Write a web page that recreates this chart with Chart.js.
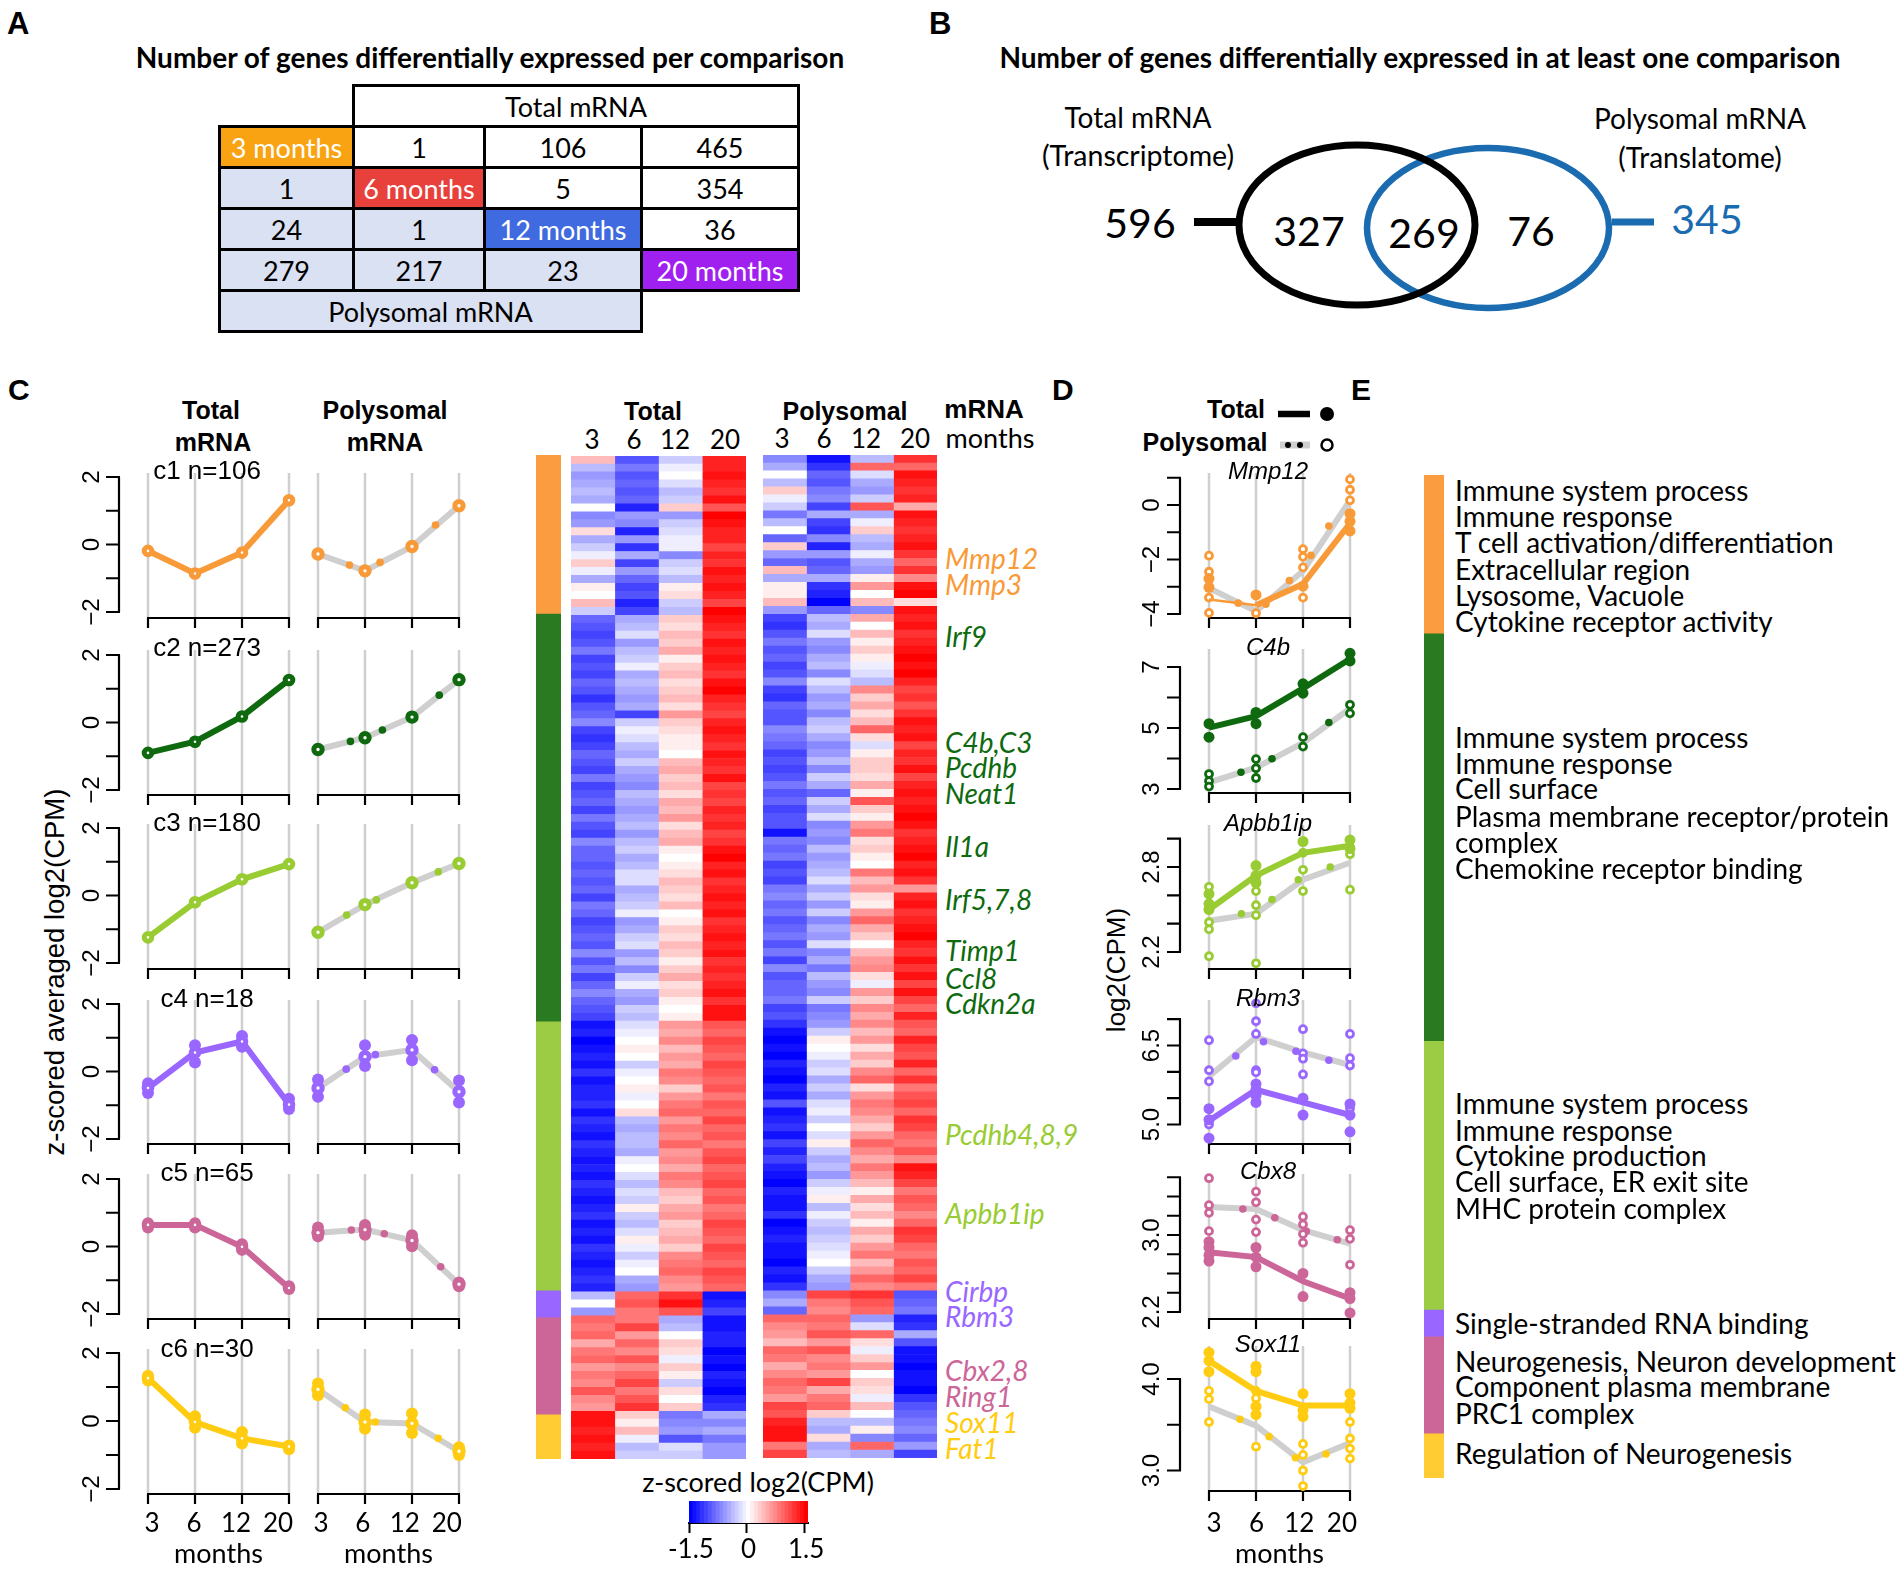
<!DOCTYPE html>
<html lang="en">
<head>
<meta charset="UTF-8">
<title>Differential expression figure</title>
<script src="https://cdn.jsdelivr.net/npm/chart.js"></script>
<style>
  html, body { margin: 0; padding: 0; background: #fff; }
  body { position: relative; width: 1904px; height: 1571px; overflow: hidden; font-family: Lato, sans-serif; color: #000; }
  canvas { position: absolute; }
  .t { position: absolute; white-space: nowrap; transform: translate(-50%, -50%); }
  .l { position: absolute; white-space: nowrap; transform: translate(0, -50%); }
  .arial { font-family: "Liberation Sans", sans-serif; }
  .b { font-weight: 700; }
  .i { font-style: italic; }
  #tableA { position: absolute; left: 218px; top: 84px; border-collapse: collapse; table-layout: fixed; font-size: 27px; }
  #tableA td { border: 3.5px solid #000; text-align: center; padding: 0; height: 38px; background: #fff; }
  #tableA td.blank { border: none; background: none; }
  #tableA td.low { background: #d9e1f2; }
  #tableA td.m { color: #fff; }
  svg { position: absolute; left: 0; top: 0; }
</style>
</head>
<body>
<script>
  // panel A
  const tableMonths = ['3 months', '6 months', '12 months', '20 months']
  const tableColors = ['#f9a313', '#e8403a', '#3f6ae0', '#a020f0']
  const tableValues = [
    [null, 1, 106, 465],
    [1, null, 5, 354],
    [24, 1, null, 36],
    [279, 217, 23, null]
  ]

  // clusters
  const clusterNames = ['c1', 'c2', 'c3', 'c4', 'c5', 'c6']
  const clusterN = [106, 273, 180, 18, 65, 30]
  const clusterColors = ['#f99a38', '#0f6a0f', '#99cc33', '#9966ff', '#cc6699', '#ffcc11']
  const stripColors = ['#fb9c40', '#2a7a22', '#9ccc44', '#9966ff', '#cc6699', '#ffcc33']
  const monthLabels = ['3', '6', '12', '20']

  // panel C, z-scored means
  const c1Total = [-0.19, -0.86, -0.24, 1.31]
  const c1Poly = [-0.28, -0.78, -0.06, 1.15]
  const c1DotsX = [0.67, 1.32, 2.5]
  const c1DotsY = [-0.61, -0.53, 0.58]
  const c2Total = [-0.9, -0.57, 0.18, 1.26]
  const c2Poly = [-0.8, -0.45, 0.16, 1.27]
  const c2DotsX = [0.69, 1.37, 2.58]
  const c2DotsY = [-0.56, -0.22, 0.81]
  const c3Total = [-1.24, -0.2, 0.48, 0.93]
  const c3Poly = [-1.09, -0.27, 0.38, 0.95]
  const c3DotsX = [0.61, 1.24, 2.56]
  const c3DotsY = [-0.58, -0.13, 0.7]
  const c4Total = [-0.49, 0.56, 0.89, -0.98]
  const c4Poly = [-0.49, 0.44, 0.64, -0.6]
  const c4DotsX = [0.6, 1.22, 2.48]
  const c4DotsY = [0.07, 0.5, 0.05]
  const c4TotalReps = [[-0.35, -0.64], [0.78, 0.27], [1.05, 0.73], [-0.81, -1.11]]
  const c4PolyReps = [[-0.24, -0.75], [0.78, 0.16], [0.93, 0.33], [-0.27, -0.92]]
  const c5Total = [0.64, 0.64, -0.01, -1.23]
  const c5Poly = [0.41, 0.5, 0.18, -1.12]
  const c5DotsX = [0.71, 1.41, 2.61]
  const c5DotsY = [0.49, 0.38, -0.6]
  const c5TotalReps = [[0.69, 0.56], [0.69, 0.56], [0.07, -0.1], [-1.18, -1.26]]
  const c5PolyReps = [[0.56, 0.3], [0.64, 0.35], [0.33, 0.01], [-1.07, -1.18]]
  const c6Total = [1.26, -0.03, -0.51, -0.75]
  const c6Poly = [0.93, -0.03, -0.07, -0.89]
  const c6DotsX = [0.58, 1.22, 2.56]
  const c6DotsY = [0.39, -0.03, -0.51]
  const c6TotalReps = [[1.33, 1.19], [0.14, -0.2], [-0.32, -0.66], [-0.72, -0.83]]
  const c6PolyReps = [[1.1, 0.76], [0.19, -0.23], [0.22, -0.35], [-0.77, -1]]

  // panel D, log2(CPM)
  const geneNames = ['Mmp12', 'C4b', 'Apbb1ip', 'Rbm3', 'Cbx8', 'Sox11']
  const mmp12Total = [-3.47, -3.68, -2.9, -0.67]
  const mmp12Poly = [-3.05, -3.9, -2.42, 0.17]
  const mmp12DotsX = [0.62, 1.21, 1.71, 2.17, 2.55]
  const mmp12DotsY = [-3.6, -3.64, -2.77, -1.85, -0.77]
  const mmp12TotalReps = [[-2.7, -3.02], [-3.3], [-2.98], [-0.32, -0.6, -0.95]]
  const mmp12PolyReps = [[-1.86, -2.45, -3.4, -3.96], [-3.97], [-1.62, -1.9, -2.29, -3.4], [0.94, 0.56, 0.17]]
  const c4bTotal = [5.01, 5.39, 6.3, 7.26]
  const c4bPoly = [3.22, 3.7, 4.51, 5.64]
  const c4bDotsX = [0.68, 1.34, 2.55]
  const c4bDotsY = [3.55, 3.99, 5.18]
  const c4bTotalReps = [[5.14, 4.7], [5.51, 5.14], [6.45, 6.14], [7.45, 7.2]]
  const c4bPolyReps = [[3.49, 3.26, 3.08], [3.98, 3.68, 3.36], [4.7, 4.39], [5.76, 5.48]]
  const apbbTotal = [2.5, 2.74, 2.9, 2.95]
  const apbbPoly = [2.42, 2.47, 2.71, 2.83]
  const apbbDotsX = [0.69, 1.34, 1.9, 2.58]
  const apbbDotsY = [2.47, 2.57, 2.71, 2.8]
  const apbbTotalReps = [[2.61, 2.54, 2.5], [2.81, 2.74, 2.69], [2.98], [2.99, 2.93]]
  const apbbPolyReps = [[2.66, 2.5, 2.41, 2.36, 2.17], [2.7, 2.63, 2.53, 2.46, 2.12], [2.9, 2.78, 2.63], [2.94, 2.89, 2.64]]
  const rbm3Total = [5.07, 5.66, 5.42, 5.18]
  const rbm3Poly = [5.91, 6.66, 6.37, 6.13]
  const rbm3DotsX = [0.57, 1.16, 1.85, 2.55]
  const rbm3DotsY = [6.3, 6.57, 6.39, 6.22]
  const rbm3TotalReps = [[5.3, 5.09, 4.74], [5.77, 5.66, 5.55, 5.42], [5.5, 5.18], [5.39, 5.18, 4.86]]
  const rbm3PolyReps = [[6.6, 6.03, 5.82, 5], [7.3, 6.96, 6.72, 6.03, 5.99], [6.81, 6.35, 6.25, 5.95], [6.72, 6.26, 6.12, 5.31]]
  const cbx8Total = [2.82, 2.77, 2.52, 2.34]
  const cbx8Poly = [3.29, 3.27, 3.05, 2.91]
  const cbx8DotsX = [0.72, 1.4, 2.07, 2.73]
  const cbx8DotsY = [3.27, 3.18, 3.04, 2.95]
  const cbx8TotalReps = [[2.93, 2.87, 2.79, 2.73], [2.87, 2.77, 2.67], [2.6, 2.36], [2.4, 2.34, 2.19]]
  const cbx8PolyReps = [[3.59, 3.31, 3.23, 3.04], [3.45, 3.34, 3.16, 3.03], [3.19, 3.11, 3.01, 2.92], [3.05, 2.96, 2.69]]
  const sox11Total = [4.2, 3.87, 3.71, 3.71]
  const sox11Poly = [3.7, 3.49, 3.09, 3.3]
  const sox11DotsX = [0.66, 1.28, 1.84, 2.49]
  const sox11DotsY = [3.56, 3.37, 3.14, 3.18]
  const sox11TotalReps = [[4.29, 4.2, 4.08], [4.14, 4.08, 3.7, 3.61], [3.84, 3.66, 3.59], [3.84, 3.74, 3.68]]
  const sox11PolyReps = [[3.87, 3.78, 3.53], [3.87, 3.79, 3.26], [3.29, 3.17, 3, 2.83], [3.53, 3.35, 3.24, 3.13]]

  // heatmap rows, one array per column
  // bands per cluster: 20, 51, 34, 3, 12, 6
  const heatT3 = [.4,-.4,-.6,-.5,-.4,-.5,0,-.7,-.6,.2,-.5,-.3,-.1,.3,-.1,-.5,.1,0,.4,-.3,
    -.9,-1,-1.1,-1,-.8,-1.1,-1,-1.1,-.9,-1,-1.2,-1,-.9,-.7,-1.1,-1.2,-1.1,-.9,-1,-1.1,-.8,-1.1,-1,-.9,-1.1,-.8,-1,-1.1,-.7,-.9,-.9,-1,-.9,-1,-.9,-1.1,-.8,-.9,-1.1,-1,-.9,-1,-.7,-1,-.8,-1.1,-.9,-.7,-.9,-1,-1.1,
    -1.4,-1.3,-1.5,-1.4,-1.3,-1.4,-1.2,-1.4,-1.3,-1.3,-1.2,-1.4,-1.2,-1.3,-1.4,-1.2,-1.3,-1.4,-1.3,-1.4,-1.2,-1.3,-1.4,-1.3,-1.2,-1.4,-1.3,-1.4,-1.2,-1.3,-1.4,-1.3,-1.2,-1.3,
    -.4,0,-.6,
    .9,.8,.9,.5,.8,.9,.6,.8,.7,1,.7,.6,
    1.4,1.4,1.3,1.4,1.3,1.4]
  const heatT6 = [-1,-.8,-1,-.9,-1,-.9,-1.3,-.6,-.7,-1.3,-.6,-1.2,-.5,-1.1,-.6,-.9,-1.1,-1,-1.3,-1.1,
    -.5,-.4,-.2,-.6,-.4,-.3,-.1,-.5,-.4,-.5,-.6,-.5,-1.1,-.3,-.1,-.2,-.4,-.5,-.3,-.5,-.6,-.7,-.4,-.5,-.6,-.5,-.4,-.6,-.4,-.3,-.5,-.4,-.2,-.2,-.5,-.4,-.3,-.1,-.6,-.5,-.3,-.2,-.6,-.4,-.7,-.3,-.1,-.5,-.6,-.3,-.4,
    -.2,-.1,0,.1,0,-.3,-.1,0,.1,-.1,0,.2,-.4,-.5,-.4,-.4,-.5,-.1,0,-.2,-.4,-.2,-.3,.1,-.3,-.4,-.2,.1,-.1,-.3,-.1,0,-.5,-.6,
    .9,1,.8,
    .8,1.1,.6,.9,.7,1,.7,.9,1.1,.8,1,1.2,
    .3,.1,.4,-.1,-.4,-.3]
  const heatT12 = [-.3,-.1,0,-.2,-.4,-.3,.3,-.6,-.3,-.2,-.1,-.1,-.7,-.3,-.2,-.4,.1,.2,-.3,-.4,
    .3,.2,.4,.3,.5,.1,.3,.4,.2,.3,.4,.2,.6,.3,.2,.1,.1,0,.4,.5,.3,.4,.2,.5,.4,.6,.2,.4,.5,.1,0,.1,.2,.4,.3,.2,.4,0,.1,.3,.2,.4,.3,.1,.3,.5,.2,.3,.1,0,.1,
    .6,.5,.7,.4,.6,.5,.8,.7,.3,.6,.8,.9,.6,.8,.7,.9,.6,.7,.5,.8,.7,.4,.3,.5,.6,.3,.4,.5,.3,.7,.8,.9,.7,.6,
    1.2,1.4,1,
    -.5,-.4,0,.3,.2,-.1,.3,.1,-.3,.2,0,.3,
    -.8,-.7,-.6,-1,-.2,-.3]
  const heatT20 = [1.3,1.3,1.4,1.3,1.2,1.4,1,1.5,1.4,1.3,1.3,1.1,1.3,1.2,1.4,1.3,1.4,1.3,1.1,1.5,
    1.4,1.3,1.2,1.4,1.3,1.4,1.3,1.2,1.4,1.5,1.3,1.2,1.1,1.3,1.4,1.3,1.2,1.4,1.3,1.2,1.4,1.1,1.2,1.1,1.3,1.2,1.3,1.1,1.2,1.4,1.5,1.3,1.4,1.2,1.3,1.4,1.3,1.4,1.2,1.3,1.4,1.3,1.4,1.2,1.3,1.2,1.3,1.4,1.2,1.4,1.4,
    1,.9,1.1,1,.9,1.1,1,.9,1,.8,1,.9,1.1,.9,1,.8,1,1.1,.9,1,1.1,.9,1,.8,.9,1.1,1,.9,1.1,1,.9,1.1,1,.9,
    -1.4,-1.3,-1.1,
    -1.4,-1.4,-1.3,-1.3,-1.5,-1.4,-1.5,-1.3,-1.4,-1.5,-1.3,-1.2,
    -.5,-.7,-.5,-.8,-.6,-.6]
  const heatP3 = [-.7,-.5,0,-.4,.3,-.1,-.3,-.8,-.4,0,-.9,.3,-.6,-.9,.4,-.5,.1,.1,.4,-.6,
    -1.1,-1.2,-1,-.8,-1,-.9,-1.1,-1,-.7,-1.1,-1.2,-.9,-1,-1,-.7,-.8,-.9,-1.1,-1,-1.1,-1,-.8,-1,-.9,-1.1,-1,-1,-1.4,-.8,-.9,-.8,-1.1,-1,-1.1,-.8,-.7,-.9,-.8,-1,-.9,-.8,-1,-.8,-1.1,-.7,-1,-.9,-.9,-.8,-1.1,-1,
    -1.2,-1.4,-1.5,-1.4,-1.5,-1.3,-1.4,-1.5,-1.3,-1.4,-1,-1.4,-1.3,-1.2,-1.4,-1.1,-1.3,-1.1,-1.3,-1.4,-1.5,-1.3,-1.4,-1.4,-1.2,-1.5,-1.4,-1.3,-1.4,-1.4,-1.5,-1.3,-1.4,-1.2,
    -.7,-.5,-.9,
    .9,.7,.6,.4,.9,.8,.5,.7,.9,.8,.6,1.1,
    1,1.3,1.4,1.4,.8,1.1]
  const heatP6 = [-1.4,-1.2,-.9,-1,-.8,-.7,-1.1,-.5,-1.1,-1.2,-.7,-1.3,-.6,-1,-.9,-.5,-1.2,-1.3,-1.5,-.9,
    -.4,-.5,-.2,-.6,-.7,-.5,-.4,-.7,-.2,-.4,-.6,-.5,-.7,-.4,-.3,-.5,-.7,-.6,-.4,-.7,-.3,-.5,-.9,-.3,-.5,-.2,-.7,-.6,-.7,-.4,-.6,-.5,-.4,-.2,-.5,-.3,-.6,-.3,-.7,-.5,-.6,-.2,-.7,-.5,-.8,-.4,-.6,-.7,-.3,-.8,-.7,
    -.6,-.3,.1,0,-.1,-.3,-.2,-.5,-.3,-.5,-.2,-.1,-.3,0,-.2,.1,-.3,-.5,-.4,-.6,-.3,-.1,.1,-.4,-.1,-.3,-.4,-.3,-.2,-.1,0,-.3,-.5,-.6,
    1.1,.8,.7,
    .9,.8,1,.6,1,.7,.8,.6,1.1,.5,.8,.9,
    .3,-.4,-.5,.2,-.5,-.4]
  const heatP12 = [-.4,.9,-.2,-.5,-.6,-.3,1,-.5,-.1,.3,-.4,-.5,-.1,-.5,-.6,.1,.6,0,.4,-.7,
    .5,0,.4,.1,.3,.1,-.1,-.2,-.4,.7,.3,.5,.2,.4,.9,.2,-.2,.1,.3,.3,.2,.5,.1,1,.3,.1,.6,.8,.2,.3,.1,0,.8,.4,.6,.2,.1,.6,.9,.5,.3,0,.4,.6,.7,.2,-.1,.6,.3,.7,.5,
    .7,.4,.6,.2,.5,.3,.7,.9,.2,.6,.8,.7,.5,.3,.6,.9,.7,.5,.8,.6,.4,.1,.5,.2,.4,.1,.5,.3,.6,.8,.4,.6,.9,.7,
    1.2,1,.9,
    -.6,-.2,.9,.2,-.1,.3,.6,0,.3,.2,-.1,.4,
    0,-.4,.1,-.7,.9,-.5]
  const heatP20 = [1.2,.9,1.4,1.3,1.2,1.3,.5,1.4,1.3,1.2,1.3,1.4,1.2,.9,1.2,.7,1.4,1.5,.2,1.4,
    1.3,1.4,1.2,1.3,1.4,1.5,1.4,1.5,1.3,1.1,1.2,1,1.2,1.4,1.3,1.4,1.1,1.3,1.2,1.4,1.1,1.3,1.4,1.3,1.4,1.5,1.4,1.2,1.3,1.4,1.5,1.3,1.4,1.2,.6,1.3,1.4,1.2,1.3,1.4,1.5,1.3,1.2,1.4,1.2,1.4,1.1,1.4,1.1,.9,1.3,
    1,.9,1.3,1.1,1,1.3,.9,1.2,.8,1,1.1,.9,1.2,1.1,.9,.8,1,.7,1.4,1.3,1.1,.8,1,.9,.7,.9,1.2,1.1,.9,.8,1,.9,1.1,.8,
    -1,-.9,-.8,
    -1.3,-1.2,-.5,-1,-1.4,-1.4,-1.5,-1.4,-1.4,-1.5,-1.2,-1,
    -.9,-.8,-.7,-.9,-.6,-1.1]
  const colorBins = [-1.5,-1.4,-1.3,-1.2,-1.1,-1,-.9,-.8,-.7,-.6,-.5,-.4,-.3,-.2,-.1,0,.1,.2,.3,.4,.5,.6,.7,.8,.9,1,1.1,1.2,1.3,1.4,1.5]

  const geneLabels = ['Mmp12', 'Mmp3', 'Irf9', 'C4b,C3', 'Pcdhb', 'Neat1', 'Il1a', 'Irf5,7,8', 'Timp1', 'Ccl8', 'Cdkn2a', 'Pcdhb4,8,9', 'Apbb1ip', 'Cirbp', 'Rbm3', 'Cbx2,8', 'Ring1', 'Sox11', 'Fat1']
  const geneCluster = [0, 0, 1, 1, 1, 1, 1, 1, 1, 1, 1, 2, 2, 3, 3, 4, 4, 5, 5]
  const goTerms = ['Immune system process', 'Immune response', 'T cell activation/differentiation', 'Extracellular region', 'Lysosome, Vacuole', 'Cytokine receptor activity',
    'Immune system process', 'Immune response', 'Cell surface', 'Plasma membrane receptor/protein', 'complex', 'Chemokine receptor binding',
    'Immune system process', 'Immune response', 'Cytokine production', 'Cell surface, ER exit site', 'MHC protein complex',
    'Single-stranded RNA binding',
    'Neurogenesis, Neuron development', 'Component plasma membrane', 'PRC1 complex',
    'Regulation of Neurogenesis']

  // ------- page helpers
  function txt(text, x, y, cls, style) {
    const d = document.createElement('div')
    d.className = cls
    d.textContent = text
    d.style.cssText = `left:${x}px;top:${y}px;${style || ''}`
    document.body.appendChild(d)
    return d
  }

  function addCanvas(left, top, w, h) {
    const c = document.createElement('canvas')
    c.width = w
    c.height = h
    c.style.cssText = `left:${left}px;top:${top}px;width:${w}px;height:${h}px`
    document.body.appendChild(c)
    return c
  }

  function heatColor(v) {
    const k = Math.min(Math.abs(v) / 1.5, 1)
    const c = Math.round(255 * (1 - k))
    return v < 0 ? `rgb(${c},${c},255)` : `rgb(255,${c},${c})`
  }

  // R style axes, detached from the plot, drawn from the chart's own scales
  const rAxes = {
    id: 'rAxes',
    beforeDatasetsDraw(chart, args, opts) {
      const ctx = chart.ctx
      const a = chart.chartArea
      const x = chart.scales.x
      const y = chart.scales.y
      ctx.save()
      ctx.strokeStyle = '#cfcfcf'
      ctx.lineWidth = 2.5
      for (let i = 0; i < 4; i++) {
        const px = x.getPixelForValue(i)
        ctx.beginPath(); ctx.moveTo(px, a.top); ctx.lineTo(px, a.bottom); ctx.stroke()
      }
      ctx.strokeStyle = '#000'
      ctx.lineWidth = 2.2
      ctx.beginPath()
      ctx.moveTo(x.getPixelForValue(0) - 1, a.bottom); ctx.lineTo(x.getPixelForValue(3) + 1, a.bottom)
      for (let i = 0; i < 4; i++) {
        ctx.moveTo(x.getPixelForValue(i), a.bottom); ctx.lineTo(x.getPixelForValue(i), a.bottom + 10)
      }
      if (opts.showY) {
        const ax = a.left - 29
        const t = y.ticks
        ctx.moveTo(ax, y.getPixelForValue(t[0].value)); ctx.lineTo(ax, y.getPixelForValue(t[t.length - 1].value))
        t.forEach(k => {
          const py = y.getPixelForValue(k.value)
          ctx.moveTo(ax + 1, py); ctx.lineTo(ax - 13, py)
        })
      }
      ctx.stroke()
      ctx.restore()
    }
  }

  function lineSet(vals, color, width, firstWidth) {
    const set = { data: vals.map((v, i) => ({ x: i, y: v })), showLine: true, borderColor: color, borderWidth: width, pointRadius: 0, clip: false }
    if (firstWidth) set.segment = { borderWidth: c => c.p0DataIndex == 0 ? firstWidth : width }
    return set
  }
  function pointSet(pts, color, radius, border, fill) {
    return { data: pts, showLine: false, pointRadius: radius, pointBorderWidth: border, pointBorderColor: color, pointBackgroundColor: fill, clip: false }
  }
  function repPoints(reps) {
    const out = []
    reps.forEach((list, i) => list.forEach(v => out.push({ x: i, y: v })))
    return out
  }
  function zipPoints(xs, ys) {
    return xs.map((v, i) => ({ x: v, y: ys[i] }))
  }

  // o: x0,x1,top,bottom of the plot box; ref = [value, pixel, value, pixel]
  function miniPlot(o) {
    const m = { left: 90, right: 22, top: 14, bottom: o.xl ? (o.xlHeight || 76) : 16 }
    const cv = addCanvas(o.x0 - m.left, o.top - m.top, o.x1 - o.x0 + m.left + m.right, o.bottom - o.top + m.top + m.bottom)
    const k = (o.ref[0] - o.ref[2]) / (o.ref[1] - o.ref[3])
    const valueAt = p => o.ref[0] + (p - o.ref[1]) * k
    const scales = {
      x: { type: 'linear', min: 0, max: 3, ticks: { display: false }, grid: { display: false }, border: { display: false }, afterFit(s) { s.height = 0 } },
      y: {
        type: 'linear', min: valueAt(o.bottom), max: valueAt(o.top),
        grid: { display: false, drawTicks: false }, border: { display: false },
        afterBuildTicks(s) { s.ticks = o.ticks.map(v => ({ value: v })) },
        // tick padding would otherwise also eat into the plot height
        afterFit(s) { s.width = m.left; s.paddingTop = 0; s.paddingBottom = 0 },
        ticks: {
          display: !!o.labels, autoSkip: false, minRotation: 90, maxRotation: 90, crossAlign: 'center', padding: o.pad || 42,
          color: '#000', font: { family: 'Liberation Sans', size: 24 },
          callback: (v, i) => o.labels ? o.labels[i] : ''
        }
      }
    }
    if (o.xl) {
      scales.xl = {
        type: 'linear', position: 'bottom', min: o.xl[0], max: o.xl[1],
        grid: { display: false, drawTicks: false }, border: { display: false },
        afterBuildTicks(s) { s.ticks = [0, 1, 2, 3].map(v => ({ value: v })) },
        afterFit(s) { s.height = m.bottom; s.paddingLeft = 0; s.paddingRight = 0 },
        ticks: { padding: o.xlPad || 14, autoSkip: false, maxRotation: 0, color: '#000', font: { family: 'Lato', size: 26 }, callback: v => monthLabels[v] },
        title: { display: true, text: 'months', color: '#000', font: { family: 'Lato', size: 27 }, padding: 0 }
      }
    }
    const n = o.sets.length
    new Chart(cv, {
      type: 'scatter',
      data: { datasets: o.sets.map((d, i) => Object.assign(d, { order: n - i })) },
      options: {
        responsive: false, animation: false, events: [],
        layout: { autoPadding: false, padding: { left: 0, right: m.right, top: m.top, bottom: o.xl ? 0 : m.bottom } },
        plugins: { legend: { display: false }, tooltip: { enabled: false }, rAxes: { showY: !!o.labels } },
        scales: scales
      },
      plugins: [rAxes]
    })
  }

  function heatChart(left, top, w, h, cols) {
    new Chart(addCanvas(left, top, w, h), {
      type: 'bar',
      data: {
        labels: cols[0].map((v, i) => i),
        datasets: cols.map(col => ({ data: col.map(() => 1), backgroundColor: col.map(heatColor), barPercentage: 1, categoryPercentage: 1 }))
      },
      options: {
        indexAxis: 'y', responsive: false, animation: false, events: [],
        plugins: { legend: { display: false }, tooltip: { enabled: false } },
        scales: { x: { display: false, stacked: true, min: 0, max: cols.length }, y: { display: false, stacked: true } }
      }
    })
  }

  function clusterStrip(left, top, w, h) {
    new Chart(addCanvas(left, top, w, h), {
      type: 'bar',
      data: {
        labels: ['genes'],
        datasets: clusterN.map((n, i) => ({ data: [n], backgroundColor: stripColors[i], barPercentage: 1, categoryPercentage: 1 }))
      },
      options: {
        responsive: false, animation: false, events: [],
        plugins: { legend: { display: false }, tooltip: { enabled: false } },
        scales: { x: { display: false, stacked: true }, y: { display: false, stacked: true, reverse: true, min: 0, max: 672 } }
      }
    })
  }

  // ------- panel letters
  txt('A', 7, 24, 'l arial b', 'font-size:31px')
  txt('B', 929, 24, 'l arial b', 'font-size:31px')
  txt('C', 8, 390, 'l arial b', 'font-size:30px')
  txt('D', 1052, 390, 'l arial b', 'font-size:30px')
  txt('E', 1351, 390, 'l arial b', 'font-size:30px')

  // ------- panel A
  txt('Number of genes differentially expressed per comparison', 490, 57, 't b', 'font-size:28px')
  const tbl = document.createElement('table')
  tbl.id = 'tableA'
  let html = '<colgroup><col style="width:134px"><col style="width:131px"><col style="width:157px"><col style="width:157px"></colgroup>'
  html += '<tr><td class="blank"></td><td colspan="3">Total mRNA</td></tr>'
  tableValues.forEach((row, r) => {
    html += '<tr>'
    row.forEach((v, c) => {
      if (v === null) html += `<td class="m" style="background:${tableColors[r]}">${tableMonths[r]}</td>`
      else html += `<td class="${c < r ? 'low' : ''}">${v}</td>`
    })
    html += '</tr>'
  })
  html += '<tr><td class="low" colspan="3">Polysomal mRNA</td><td class="blank"></td></tr>'
  tbl.innerHTML = html
  document.body.appendChild(tbl)

  // ------- panel B
  txt('Number of genes differentially expressed in at least one comparison', 1420, 57, 't b', 'font-size:28px')
  txt('Total mRNA', 1138, 117, 't', 'font-size:28px')
  txt('(Transcriptome)', 1138, 155, 't', 'font-size:28.5px')
  txt('Polysomal mRNA', 1700, 118, 't', 'font-size:28px')
  txt('(Translatome)', 1700, 157, 't', 'font-size:28px')
  txt('596', 1140, 222, 't', 'font-size:41px')
  txt('327', 1309, 230, 't', 'font-size:41px')
  txt('269', 1424, 232, 't', 'font-size:41px')
  txt('76', 1531, 230, 't', 'font-size:41px')
  txt('345', 1707, 218, 't', 'font-size:41px;color:#1b6bb0')

  const svgNS = 'http://www.w3.org/2000/svg'
  const svg = document.createElementNS(svgNS, 'svg')
  svg.setAttribute('width', 1904)
  svg.setAttribute('height', 1571)
  svg.innerHTML = `
    <ellipse cx="1488" cy="228" rx="121" ry="80" fill="none" stroke="#1b6bb0" stroke-width="6.5"/>
    <ellipse cx="1357" cy="225" rx="118" ry="80" fill="none" stroke="#000" stroke-width="7"/>
    <line x1="1194" y1="222" x2="1236" y2="222" stroke="#000" stroke-width="8"/>
    <line x1="1612" y1="222" x2="1654" y2="222" stroke="#1b6bb0" stroke-width="7"/>
    <line x1="1278" y1="414" x2="1310" y2="414" stroke="#000" stroke-width="6.5"/>
    <circle cx="1327" cy="414" r="7" fill="#000"/>
    <line x1="1280" y1="445" x2="1310" y2="445" stroke="#cfcfcf" stroke-width="7"/>
    <circle cx="1288" cy="445" r="3" fill="#000"/>
    <circle cx="1300" cy="445" r="3" fill="#000"/>
    <circle cx="1327" cy="445" r="5.5" fill="#fff" stroke="#000" stroke-width="2.5"/>`
  document.body.appendChild(svg)

  // ------- panel C
  txt('Total', 211, 410, 't arial b', 'font-size:25px')
  txt('mRNA', 213, 442, 't arial b', 'font-size:25px')
  txt('Polysomal', 385, 410, 't arial b', 'font-size:25px')
  txt('mRNA', 385, 442, 't arial b', 'font-size:25px')
  txt('z-scored averaged log2(CPM)', 55, 972, 't arial', 'font-size:27.5px;transform:translate(-50%,-50%) rotate(-90deg)')

  const rowBoxes = [[473, 618, 477, 612], [650, 795, 655, 790], [824, 969, 828, 963], [1000, 1144, 1004, 1139], [1174, 1319, 1179, 1314], [1349, 1494, 1353, 1489]]
  const titleY = [470, 647, 822, 998, 1172, 1348]
  const cTotals = [c1Total, c2Total, c3Total, c4Total, c5Total, c6Total]
  const cPolys = [c1Poly, c2Poly, c3Poly, c4Poly, c5Poly, c6Poly]
  const cDotsX = [c1DotsX, c2DotsX, c3DotsX, c4DotsX, c5DotsX, c6DotsX]
  const cDotsY = [c1DotsY, c2DotsY, c3DotsY, c4DotsY, c5DotsY, c6DotsY]
  const cTotalReps = [[], [], [], c4TotalReps, c5TotalReps, c6TotalReps]
  const cPolyReps = [[], [], [], c4PolyReps, c5PolyReps, c6PolyReps]

  rowBoxes.forEach((b, i) => {
    const col = clusterColors[i]
    const ref = [2, b[2], -2, b[3]]
    const meanPts = vals => vals.map((v, k) => ({ x: k, y: v }))
    miniPlot({
      x0: 148, x1: 289, top: b[0], bottom: b[1], ref: ref, ticks: [-2, -1, 0, 1, 2], labels: ['\u22122', '', '0', '', '2'],
      xl: i == 5 ? [-0.095, 3.26] : null,
      sets: [lineSet(cTotals[i], col, 6), pointSet(repPoints(cTotalReps[i]), col, 6, 0, col), pointSet(meanPts(cTotals[i]), col, 3.8, 5, '#fff')]
    })
    miniPlot({
      x0: 318, x1: 459, top: b[0], bottom: b[1], ref: ref, ticks: [-2, -1, 0, 1, 2],
      xl: i == 5 ? [-0.07, 3.29] : null,
      sets: [lineSet(cPolys[i], '#cfcfcf', 6), pointSet(zipPoints(cDotsX[i], cDotsY[i]), col, 3.8, 0, col), pointSet(repPoints(cPolyReps[i]), col, 6, 0, col), pointSet(meanPts(cPolys[i]), col, 4.2, 5, '#fff')]
    })
    txt(`${clusterNames[i]} n=${clusterN[i]}`, 207, titleY[i], 't arial', 'font-size:26px')
  })

  // ------- heatmap
  txt('Total', 653, 411, 't arial b', 'font-size:25px')
  txt('Polysomal', 845, 411, 't arial b', 'font-size:25px')
  txt('mRNA', 984, 409, 't arial b', 'font-size:26px')
  txt('months', 990, 437, 't', 'font-size:27px')
  const heatLabelX = [592, 634, 675, 725, 782, 824, 866, 915]
  heatLabelX.forEach((x, i) => txt(monthLabels[i % 4], x, i < 4 ? 439 : 438, 't', 'font-size:26px'))

  clusterStrip(536, 455, 25, 1004)
  heatChart(571, 456, 175, 1003, [heatT3, heatT6, heatT12, heatT20])
  heatChart(763, 455, 174, 1003, [heatP3, heatP6, heatP12, heatP20])

  const geneY = [558, 584, 636, 742, 767, 793, 846, 899, 950, 978, 1003, 1134, 1213, 1291, 1316, 1370, 1396, 1422, 1448]
  geneLabels.forEach((g, i) => txt(g, 945, geneY[i], 'l i', `font-size:28px;color:${clusterColors[geneCluster[i]]}`))

  txt('z-scored log2(CPM)', 758, 1481, 't', 'font-size:27px')
  new Chart(addCanvas(659, 1501, 180, 68), {
    type: 'bar',
    data: {
      labels: colorBins.map(String),
      datasets: [{ data: colorBins.map(() => 1), backgroundColor: colorBins.map(heatColor), barPercentage: 1, categoryPercentage: 1 }]
    },
    options: {
      responsive: false, animation: false, events: [],
      layout: { autoPadding: false, padding: { left: 30, right: 31 } },
      plugins: { legend: { display: false }, tooltip: { enabled: false } },
      scales: {
        y: { display: false, min: 0, max: 1 },
        x: {
          border: { display: true, color: '#000', width: 2 },
          grid: { drawOnChartArea: false, tickLength: 10, tickWidth: 2, tickColor: c => ['-1.5', '0', '1.5'].includes(colorBins[c.index] + '') ? '#000' : 'rgba(0,0,0,0)' },
          afterFit(s) { s.height = 46 },
          ticks: {
            autoSkip: false, maxRotation: 0, padding: 1, color: '#000', font: { family: 'Lato', size: 26 },
            callback: (v, i) => ['-1.5', '0', '1.5'].includes(colorBins[i] + '') ? colorBins[i] : ''
          }
        }
      }
    }
  })

  // ------- panel D
  txt('Total', 1236, 409, 't arial b', 'font-size:25px')
  txt('Polysomal', 1205, 442, 't arial b', 'font-size:25px')
  txt('log2(CPM)', 1116, 970, 't arial', 'font-size:26px;transform:translate(-50%,-50%) rotate(-90deg)')

  const dBoxes = [
    { top: 473, bottom: 618, ref: [0, 505, -4, 614], ticks: [-4, -3, -2, -1, 0, 1], labels: ['\u22124', '', '\u22122', '', '0', ''], pad: 43, titleY: 471, total: mmp12Total, poly: mmp12Poly, dx: mmp12DotsX, dy: mmp12DotsY, tr: mmp12TotalReps, pr: mmp12PolyReps, firstWidth: 2.5 },
    { top: 649, bottom: 793, ref: [7, 667, 3, 789], ticks: [3, 4, 5, 6, 7], labels: ['3', '', '5', '', '7'], pad: 50, titleY: 647, total: c4bTotal, poly: c4bPoly, dx: c4bDotsX, dy: c4bDotsY, tr: c4bTotalReps, pr: c4bPolyReps },
    { top: 825, bottom: 969, ref: [2.8, 867, 2.2, 952], ticks: [2.2, 2.4, 2.6, 2.8, 3], labels: ['2.2', '', '', '2.8', ''], pad: 40, titleY: 823, total: apbbTotal, poly: apbbPoly, dx: apbbDotsX, dy: apbbDotsY, tr: apbbTotalReps, pr: apbbPolyReps },
    { top: 1000, bottom: 1144, ref: [5, 1124.5, 6.5, 1045.5], ticks: [5, 5.5, 6, 6.5, 7], labels: ['5.0', '', '', '6.5', ''], pad: 40, titleY: 998, total: rbm3Total, poly: rbm3Poly, dx: rbm3DotsX, dy: rbm3DotsY, tr: rbm3TotalReps, pr: rbm3PolyReps },
    { top: 1174, bottom: 1319, ref: [3, 1235, 2.2, 1312], ticks: [2.2, 2.4, 2.6, 2.8, 3, 3.2, 3.4, 3.6], labels: ['2.2', '', '', '', '3.0', '', '', ''], pad: 40, titleY: 1171, total: cbx8Total, poly: cbx8Poly, dx: cbx8DotsX, dy: cbx8DotsY, tr: cbx8TotalReps, pr: cbx8PolyReps },
    { top: 1346, bottom: 1491, ref: [3, 1470.5, 4, 1379], ticks: [3, 3.5, 4], labels: ['3.0', '', '4.0'], pad: 40, titleY: 1344, total: sox11Total, poly: sox11Poly, dx: sox11DotsX, dy: sox11DotsY, tr: sox11TotalReps, pr: sox11PolyReps }
  ]
  dBoxes.forEach((d, i) => {
    const col = clusterColors[i]
    miniPlot({
      x0: 1209, x1: 1350, top: d.top, bottom: d.bottom, ref: d.ref, ticks: d.ticks, labels: d.labels, pad: d.pad,
      xl: i == 5 ? [-0.117, 3.19] : null, xlHeight: 79, xlPad: 17,
      sets: [
        lineSet(d.poly, '#cfcfcf', 6),
        pointSet(zipPoints(d.dx, d.dy), col, 3.8, 0, col),
        pointSet(repPoints(d.pr), col, 3.5, 2.8, '#fff'),
        lineSet(d.total, col, 6, d.firstWidth),
        pointSet(repPoints(d.tr), col, 5.5, 0, col)
      ]
    })
    txt(geneNames[i], 1268, d.titleY, 't arial i', 'font-size:24px')
  })

  // ------- panel E
  clusterStrip(1424, 475, 20, 1003)
  const goY = [490, 516, 542, 569, 595, 621, 737, 763, 788, 816, 842, 868, 1103, 1130, 1155, 1181, 1208, 1323, 1361, 1386, 1413, 1453]
  goTerms.forEach((g, i) => txt(g, 1455, goY[i], 'l', 'font-size:28px'))
</script>
</body>
</html>
